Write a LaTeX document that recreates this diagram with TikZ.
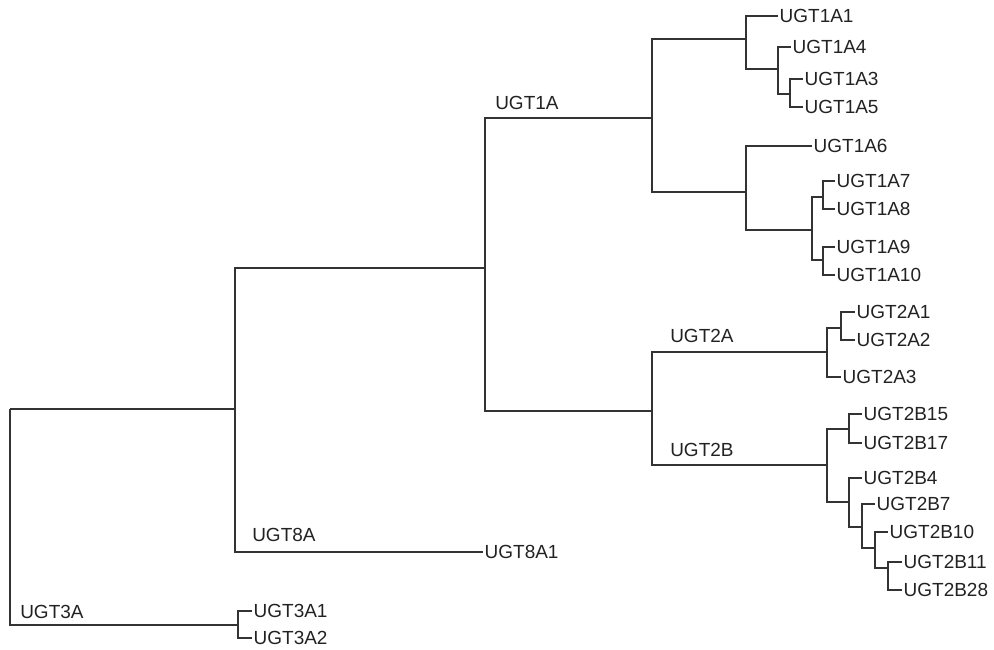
\documentclass[tikz,border=0pt]{standalone}
\usepackage{fontspec}
\setmainfont{Liberation Sans}
\definecolor{branch}{HTML}{333333}
\definecolor{label}{HTML}{222222}

\begin{document}
\begin{tikzpicture}[x=0.025cm, y=-0.025cm,
  leaf/.style={anchor=west, inner sep=1pt, text=label, font=\fontsize{13.5}{16}\selectfont},
  clade/.style={anchor=west, inner sep=0pt, text=label, font=\fontsize{13.5}{16}\selectfont},
  edge/.style={draw=branch, line width=1.6pt}]
\useasboundingbox (0,0) rectangle (994,650);

% inner branch points
\coordinate (root) at (10,409);
\coordinate (n1) at (235,409);
\coordinate (n12) at (485,268);
\coordinate (n1A) at (652,118);
\coordinate (n1Aa) at (746,39);
\coordinate (n1Ab) at (778,69);
\coordinate (n1Ac) at (790,94);
\coordinate (n1Ad) at (746,192);
\coordinate (n1Ae) at (812,230);
\coordinate (n1Af) at (823,197);
\coordinate (n1Ag) at (823,260);
\coordinate (n2) at (652,411);
\coordinate (n2A) at (827,352);
\coordinate (n2Aa) at (841,328);
\coordinate (n2B) at (827,465);
\coordinate (n2Ba) at (849,429);
\coordinate (n2Bb) at (849,502);
\coordinate (n2Bc) at (862,527);
\coordinate (n2Bd) at (875,548);
\coordinate (n2Be) at (888,568);
\coordinate (n3A) at (238,625);

% leaves
\node[leaf] (u1A1) at (778,16) {UGT1A1};
\node[leaf] (u1A4) at (791,47) {UGT1A4};
\node[leaf] (u1A3) at (803,79) {UGT1A3};
\node[leaf] (u1A5) at (803,107) {UGT1A5};
\node[leaf] (u1A6) at (812,146) {UGT1A6};
\node[leaf] (u1A7) at (835,181) {UGT1A7};
\node[leaf] (u1A8) at (835,209) {UGT1A8};
\node[leaf] (u1A9) at (835,247) {UGT1A9};
\node[leaf] (u1A10) at (835,275) {UGT1A10};
\node[leaf] (u2A1) at (855,312) {UGT2A1};
\node[leaf] (u2A2) at (855,340) {UGT2A2};
\node[leaf] (u2A3) at (841,377) {UGT2A3};
\node[leaf] (u2B15) at (862,414) {UGT2B15};
\node[leaf] (u2B17) at (862,443) {UGT2B17};
\node[leaf] (u2B4) at (862,478) {UGT2B4};
\node[leaf] (u2B7) at (875,504) {UGT2B7};
\node[leaf] (u2B10) at (888,532) {UGT2B10};
\node[leaf] (u2B11) at (902,562) {UGT2B11};
\node[leaf] (u2B28) at (902,590) {UGT2B28};
\node[leaf] (u8A1) at (483,552) {UGT8A1};
\node[leaf] (u3A1) at (252,611) {UGT3A1};
\node[leaf] (u3A2) at (252,638) {UGT3A2};

% clade names
\node[clade] (c1A) at (495,103) {UGT1A};
\node[clade] (c2A) at (670,336) {UGT2A};
\node[clade] (c2B) at (670,450) {UGT2B};
\node[clade] (c8A) at (252,535) {UGT8A};
\node[clade] (c3A) at (20,612) {UGT3A};

% branches
\draw[edge] (root) |- (n1) (root) |- (n3A)
  (n1) |- (n12) (n1) |- (u8A1.west)
  (n3A) |- (u3A1.west) (n3A) |- (u3A2.west)
  (n12) |- (n1A) (n12) |- (n2);
\draw[edge] (n1A) |- (n1Aa) (n1A) |- (n1Ad)
  (n1Aa) |- (u1A1.west) (n1Aa) |- (n1Ab)
  (n1Ab) |- (u1A4.west) (n1Ab) |- (n1Ac)
  (n1Ac) |- (u1A3.west) (n1Ac) |- (u1A5.west)
  (n1Ad) |- (u1A6.west) (n1Ad) |- (n1Ae)
  (n1Ae) |- (n1Af) (n1Ae) |- (n1Ag)
  (n1Af) |- (u1A7.west) (n1Af) |- (u1A8.west)
  (n1Ag) |- (u1A9.west) (n1Ag) |- (u1A10.west);
\draw[edge] (n2) |- (n2A) (n2) |- (n2B)
  (n2A) |- (n2Aa) (n2A) |- (u2A3.west)
  (n2Aa) |- (u2A1.west) (n2Aa) |- (u2A2.west)
  (n2B) |- (n2Ba) (n2B) |- (n2Bb)
  (n2Ba) |- (u2B15.west) (n2Ba) |- (u2B17.west)
  (n2Bb) |- (u2B4.west) (n2Bb) |- (n2Bc)
  (n2Bc) |- (u2B7.west) (n2Bc) |- (n2Bd)
  (n2Bd) |- (u2B10.west) (n2Bd) |- (n2Be)
  (n2Be) |- (u2B11.west) (n2Be) |- (u2B28.west);
\end{tikzpicture}
\end{document}
